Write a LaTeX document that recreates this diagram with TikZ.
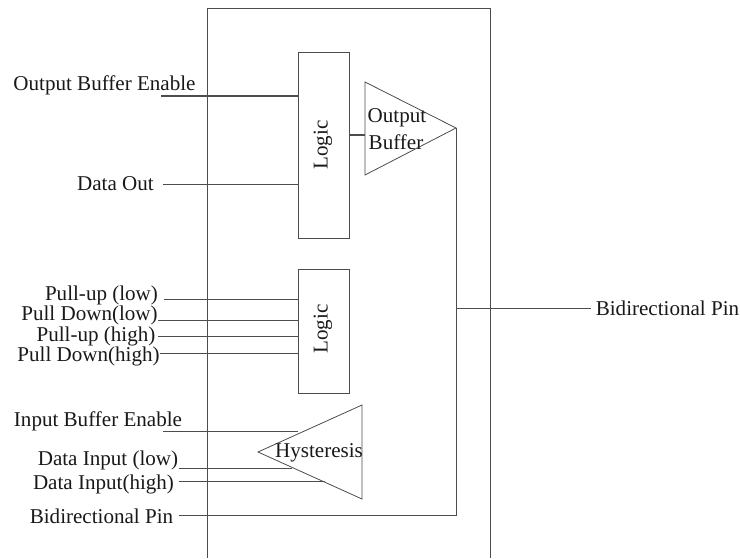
\documentclass[tikz,border=0pt]{standalone}
\usepackage{fontspec}
\setmainfont{Liberation Serif}
\usetikzlibrary{shapes,arrows,positioning,calc}
\tikzset{
  wire/.style={black!70, line width=0.6pt},
  logicbox/.style={draw=black!70, line width=0.6pt, minimum width=38.25pt, inner sep=0pt},
  lbl/.style={inner sep=0pt, text=black!90, font=\fontsize{15.8}{16}\selectfont}
}
\begin{document}
\begin{tikzpicture}[x=0.75pt,y=-0.75pt]
\useasboundingbox (0,0) rectangle (740,558);
% chip outline, open at the bottom
\draw[wire] (207,558) -- (207,8) -- (490,8) -- (490,558);
% logic blocks
\node[logicbox, minimum height=139.5pt] (logicA) at (323.5,145) {};
\node[rotate=90, lbl] (logicAtxt) at (323,145) {Logic};
\node[logicbox, minimum height=93pt] (logicB) at (323.5,331) {};
\node[rotate=90, lbl] (logicBtxt) at (323,329) {Logic};
% output buffer
\coordinate (outTop) at (365,82);
\coordinate (outBot) at (365,175);
\coordinate (outTip) at (456,128);
\draw[wire] (outTop) -- (outTip) -- (outBot) -- cycle;
\node[lbl] (outTxtA) at (397,118) {Output};
\node[lbl] (outTxtB) at (396,142) {Buffer};
% hysteresis buffer
\coordinate (hysTop) at (362,405);
\coordinate (hysBot) at (362,499);
\coordinate (hysTip) at (258,452);
\draw[wire] (hysTop) -- (hysTip) -- (hysBot) -- cycle;
\node[lbl] (hysTxt) at (319,453) {Hysteresis};
% left labels
\node[lbl] (oeTxt) at (104.5,85.5) {Output Buffer Enable};
\node[lbl] (doTxt) at (115.5,184) {Data Out};
\node[lbl] (pulA) at (101.5,295.5) {Pull-up (low)};
\node[lbl] (pdlA) at (89.5,315.5) {Pull Down(low)};
\node[lbl] (puhA) at (96,336) {Pull-up (high)};
\node[lbl] (pdhA) at (88.5,356.5) {Pull Down(high)};
\node[lbl] (ieTxt) at (98,421) {Input Buffer Enable};
\node[lbl] (dilTxt) at (108,460) {Data Input (low)};
\node[lbl] (dihTxt) at (103.5,484) {Data Input(high)};
\node[lbl] (bpTxt) at (101.5,516.5) {Bidirectional Pin};
\node[lbl] (bpRight) at (667.5,308) {Bidirectional Pin};
% free ends of the wires
\coordinate (oeEnd) at (161,96);
\coordinate (doEnd) at (163,184);
\coordinate (pulEnd) at (164,299);
\coordinate (pdlEnd) at (158,320);
\coordinate (puhEnd) at (158,336);
\coordinate (pdhEnd) at (160,353);
\coordinate (ieEnd) at (163,431);
\coordinate (dilEnd) at (179,468);
\coordinate (dihEnd) at (179,481);
\coordinate (bpEnd) at (179,515);
\coordinate (dilIn) at (292,468);
\coordinate (dihIn) at (325,481);
\coordinate (ieIn) at (298,431);
\coordinate (pinEnd) at (591,308);
% wires
\draw[wire, line width=0.85pt] (oeEnd) -- (logicA.west |- oeEnd);
\draw[wire] (doEnd) -- (logicA.west |- doEnd);
\draw[wire] (pulEnd) -- (logicB.west |- pulEnd);
\draw[wire] (pdlEnd) -- (logicB.west |- pdlEnd);
\draw[wire] (puhEnd) -- (logicB.west |- puhEnd);
\draw[wire] (pdhEnd) -- (logicB.west |- pdhEnd);
\draw[wire] (ieEnd) -- (ieIn);
\draw[wire] (dilEnd) -- (dilIn);
\draw[wire] (dihEnd) -- (dihIn);
\draw[wire] (bpEnd) -- (outTip |- bpEnd) -- (outTip);
\draw[wire] (outTip |- pinEnd) -- (pinEnd);
\draw[wire, line width=0.85pt] (logicA.east |- 0,135) -- (outTop |- 0,135);
\end{tikzpicture}
\end{document}
